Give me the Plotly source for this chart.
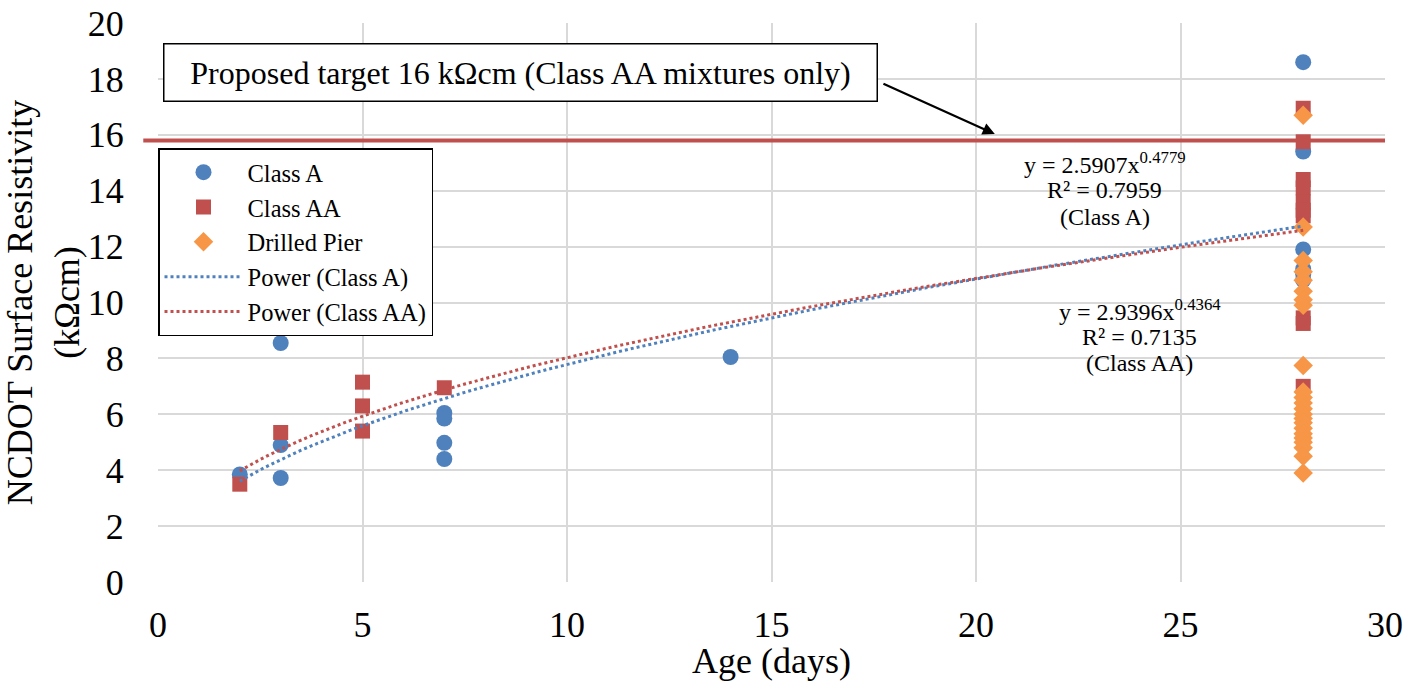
import plotly.graph_objects as go

# ---- data ----
class_a_age = [2, 3, 3, 3, 7, 7, 7, 7, 14, 28, 28, 28, 28, 28, 28]
class_a_res = [3.85, 8.55, 4.9, 3.72, 6.05, 5.85, 4.98, 4.4, 8.05, 18.6, 15.4, 11.9, 11.2, 11.0, 10.8]

class_aa_age = [2, 3, 5, 5, 5, 7, 28, 28, 28, 28, 28, 28, 28, 28, 28, 28]
class_aa_res = [3.5, 5.35, 7.15, 6.3, 5.4, 6.95, 16.95, 15.75, 14.4, 14.1, 13.6, 13.3, 13.1, 9.45, 9.25, 7.0]

pier_age = [28] * 23
pier_res = [16.7, 12.7, 11.5, 11.1, 10.8, 10.4, 10.1, 9.9, 7.75, 6.8, 6.6, 6.4, 6.2,
            6.0, 5.85, 5.7, 5.5, 5.3, 5.15, 5.0, 4.8, 4.5, 3.9]

# Power trendline coefficients (as shown on chart): y = a * x^b
trend_a = [2.5907, 2.9396]
trend_b = [0.4779, 0.4364]
trend_x = [2 + i * 0.25 for i in range(105)]

target_value = 15.8

eq_a_lines = ["y = 2.5907x<sup>0.4779</sup>", "R² = 0.7959", "(Class A)"]
eq_aa_lines = ["y = 2.9396x<sup>0.4364</sup>", "R² = 0.7135", "(Class AA)"]

x_ticks = [0, 5, 10, 15, 20, 25, 30]
y_ticks = [0, 2, 4, 6, 8, 10, 12, 14, 16, 18, 20]

BLUE = "#4F81BD"
RED = "#C0504D"
ORANGE = "#F79646"
GRID = "#D9D9D9"
FONT = "Liberation Serif, Times New Roman, serif"

fig = go.Figure()

fig.add_trace(go.Scatter(x=class_a_age, y=class_a_res, mode="markers", name="Class A",
                         marker=dict(symbol="circle", size=16, color=BLUE)))
fig.add_trace(go.Scatter(x=class_aa_age, y=class_aa_res, mode="markers", name="Class AA",
                         marker=dict(symbol="square", size=15, color=RED)))
fig.add_trace(go.Scatter(x=pier_age, y=pier_res, mode="markers", name="Drilled Pier",
                         marker=dict(symbol="diamond", size=15, color=ORANGE)))

fig.add_trace(go.Scatter(x=trend_x, y=[trend_a[0] * x ** trend_b[0] for x in trend_x],
                         mode="lines", name="Power (Class A)",
                         line=dict(color=BLUE, width=3, dash="dot")))
fig.add_trace(go.Scatter(x=trend_x, y=[trend_a[1] * x ** trend_b[1] for x in trend_x],
                         mode="lines", name="Power (Class AA)",
                         line=dict(color=RED, width=3, dash="dot")))

# target line (extends slightly left of the plot area)
fig.add_shape(type="line", xref="paper", x0=-0.012, x1=1, yref="y", y0=target_value, y1=target_value,
              line=dict(color=RED, width=4), layer="above")

# target label box
fig.add_annotation(xref="x", yref="y", x=8.875, y=18.23,
                   text="Proposed target 16 kΩcm (Class AA mixtures only)",
                   showarrow=False, font=dict(family=FONT, size=32, color="black"),
                   bordercolor="black", borderwidth=1.5, bgcolor="white",
                   width=696, height=40, borderpad=8)
fig.add_annotation(xref="x", yref="y", x=20.46, y=16.03, axref="x", ayref="y",
                   ax=17.70, ay=17.85, text="", showarrow=True,
                   arrowhead=2, arrowsize=1.1, arrowwidth=2.2, arrowcolor="black")

# equation annotations (one line each)
for txt, yv in zip(eq_a_lines, [14.99, 14.02, 13.06]):
    fig.add_annotation(xref="x", yref="y", x=23.15, y=yv, text=txt, showarrow=False,
                       font=dict(family=FONT, size=24, color="black"))
for txt, yv in zip(eq_aa_lines, [9.73, 8.77, 7.84]):
    fig.add_annotation(xref="x", yref="y", x=24.0, y=yv, text=txt, showarrow=False,
                       font=dict(family=FONT, size=24, color="black"))

fig.update_layout(
    width=1409, height=681,
    margin=dict(l=158, r=24, t=23, b=99),
    paper_bgcolor="white", plot_bgcolor="white",
    font=dict(family=FONT, color="black"),
    showlegend=True,
    legend=dict(x=0.0, y=0.776, xanchor="left", yanchor="top",
                bgcolor="white", bordercolor="black", borderwidth=1.5,
                font=dict(family=FONT, size=24.5, color="black"),
                itemwidth=78, tracegroupgap=0),
    xaxis=dict(range=[0, 30], tickvals=x_ticks, showgrid=True, gridcolor=GRID,
               gridwidth=2, zeroline=False, showline=False, automargin=False,
               ticks="outside", ticklen=11, tickcolor="rgba(0,0,0,0)",
               tickfont=dict(family=FONT, size=36),
               title=dict(text="Age (days)", font=dict(family=FONT, size=36), standoff=0)),
    yaxis=dict(range=[0, 20], tickvals=y_ticks, showgrid=True, gridcolor=GRID,
               gridwidth=2, zeroline=False, showline=False, automargin=False,
               ticks="outside", ticklen=26, tickcolor="rgba(0,0,0,0)",
               tickfont=dict(family=FONT, size=36),
               title=dict(text="NCDOT Surface Resistivity<br>(kΩcm)",
                          font=dict(family=FONT, size=36), standoff=2)),
)

fig.write_html("out.html")
